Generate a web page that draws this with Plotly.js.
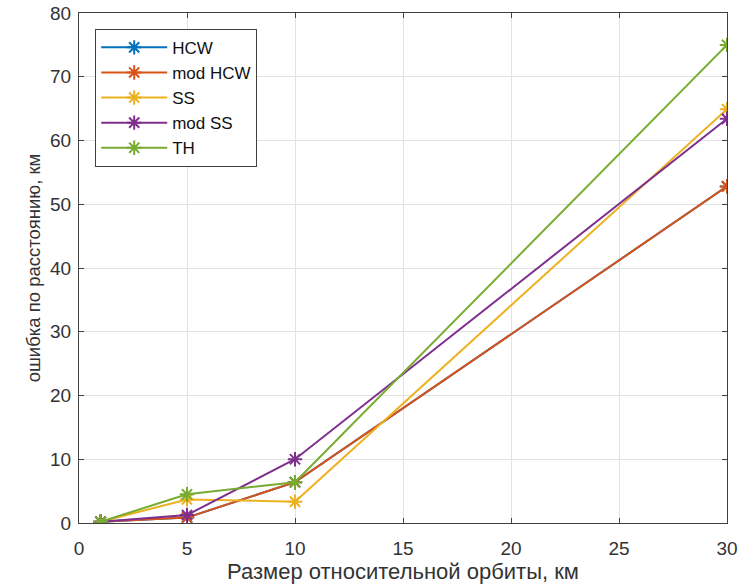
<!DOCTYPE html>
<html><head><meta charset="utf-8">
<script src="https://cdn.plot.ly/plotly-3.0.1.min.js"></script>
<style>html,body{margin:0;padding:0;background:#fff}</style>
</head><body><div id="chart" style="width:749px;height:586px"></div>
<script>
const xVals = [1, 5, 10, 30];
const seriesNames = ["HCW", "mod HCW", "SS", "mod SS", "TH"];
const hcw    = [0.2, 0.85, 6.4, 52.8];
const modHcw = [0.2, 0.85, 6.4, 52.8];
const ss     = [0.2, 3.7, 3.35, 64.9];
const modSs  = [0.2, 1.25, 10.0, 63.4];
const th     = [0.2, 4.5, 6.4, 75.0];
const colors = ["#0072BD", "#D95319", "#EDB120", "#7E2F8E", "#77AC30"];
const xTicks = [0, 5, 10, 15, 20, 25, 30];
const yTicks = [0, 10, 20, 30, 40, 50, 60, 70, 80];

const allY = [hcw, modHcw, ss, modSs, th];
const traces = allY.map((y, i) => ({
  x: xVals, y: y, name: seriesNames[i], type: "scatter", mode: "lines+markers",
  line: {color: colors[i], width: 2},
  marker: {symbol: "asterisk-open", size: 12, color: colors[i], line: {color: colors[i], width: 2}}
}));

const FONT = "Liberation Sans, Arial, sans-serif";
const axCommon = {
  showline: true, linecolor: "#404040", linewidth: 1, mirror: "ticks",
  ticks: "inside", ticklen: 5, tickcolor: "#404040",
  showgrid: true, gridcolor: "#e3e3e3", gridwidth: 1, zeroline: false,
  tickfont: {family: FONT, size: 19, color: "#333"}
};

const layout = {
  width: 749, height: 586,
  margin: {l: 79, r: 22, t: 13, b: 63},
  paper_bgcolor: "#fff", plot_bgcolor: "#fff",
  showlegend: true,
  xaxis: Object.assign({}, axCommon, {range: [0, 30], tickvals: xTicks, ticklabelstandoff: 8,
    title: {text: "Размер относительной орбиты, км", standoff: 4,
      font: {family: FONT, size: 22, color: "#333"}}}),
  yaxis: Object.assign({}, axCommon, {range: [0, 80], tickvals: yTicks, ticklabelstandoff: 3,
    title: {text: "ошибка по расстоянию, км", standoff: 4,
      font: {family: FONT, size: 18.5, color: "#333"}}}),
  legend: {x: 0.025, y: 0.969, xanchor: "left", yanchor: "top",
    bgcolor: "#fff", bordercolor: "#404040", borderwidth: 1,
    font: {family: FONT, size: 17, color: "#111"},
    tracegroupgap: 0, itemwidth: 66}
};

Plotly.newPlot("chart", traces, layout, {displayModeBar: false, staticPlot: true});
</script></body></html>
